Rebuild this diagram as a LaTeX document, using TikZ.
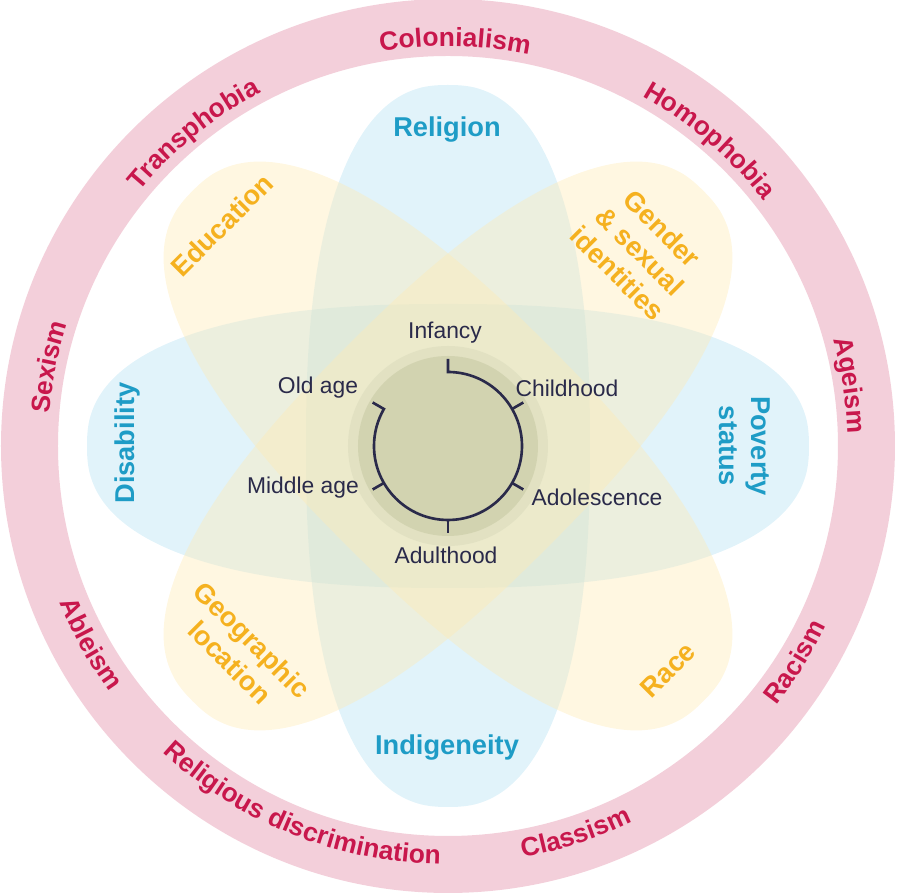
\documentclass[tikz,border=0pt]{standalone}
\usepackage{fontspec}
\setmainfont{Liberation Sans}
\usetikzlibrary{decorations.text}

\definecolor{ringpink}{HTML}{F3CFDA}
\definecolor{ringred}{HTML}{C8174C}
\definecolor{petalblue}{HTML}{A8DCF0}
\definecolor{petalyellow}{HTML}{FEEAB4}
\definecolor{textblue}{HTML}{1E9CC6}
\definecolor{textyellow}{HTML}{F5B11F}
\definecolor{navy}{HTML}{2A2A4A}
\definecolor{olive}{HTML}{D2D3B0}
\definecolor{halo}{HTML}{DCDCBC}

\newcommand{\ringfont}{\fontsize{15}{18}\selectfont\bfseries}
% petal: angle, colour, opacity
\newcommand{\petal}[3]{%
  \fill[#2, fill opacity=#3, rotate=#1] plot[smooth cycle, domain=1.5:358.5, samples=120]
    ({7.22*sign(cos(\x))*abs(cos(\x))^0.83}, {2.84*sign(sin(\x))*abs(sin(\x))^0.83});}
% ring text: angle, text (top reads outwards, bottom reads inwards)
\newcommand{\ringtop}[2]{%
  \path[decorate, decoration={text along path, text align=center, text color=ringred,
    text={|\ringfont|#2}}] ({#1+45}:8) arc[start angle={#1+45}, end angle={#1-45}, radius=8];}
\newcommand{\ringbot}[2]{%
  \path[decorate, decoration={text along path, text align=center, text color=ringred,
    text={|\ringfont|#2}}] ({#1-45}:8.37) arc[start angle={#1-45}, end angle={#1+45}, radius=8.37];}

\tikzset{
  label/.style={font=\fontsize{15.5}{18}\selectfont\bfseries, align=center},
  bluelabel/.style={label, text=textblue},
  yellowlabel/.style={label, text=textyellow},
  stage/.style={font=\fontsize{13}{15}\selectfont, text=navy},
}

\begin{document}
\begin{tikzpicture}
   \useasboundingbox (-8.96,-8.96) rectangle (8.98,8.92);
   \fill[ringpink, even odd rule] (0,0) circle (8.94) (0,0) circle (7.8);

   \petal{0}{petalblue}{0.35}
   \petal{90}{petalblue}{0.35}
   \petal{45}{petalyellow}{0.4}
   \petal{-45}{petalyellow}{0.4}
   \fill[halo, fill opacity=0.6] (0,0) circle (2);
   \fill[olive] (0,0) circle (1.8);

   \ringtop{168.8}{Sexism}
   \ringtop{129.2}{Transphobia}
   \ringtop{89}{Colonialism}
   \ringtop{49.4}{Homophobia}
   \ringtop{8.6}{Ageism}
   \ringbot{-31.9}{Racism}
   \ringbot{-71.8}{Classism}
   \ringbot{-112}{Religious discrimination}
   \ringbot{209}{Ableism}

   \node[bluelabel] (religion) at (-0.02,6.32) {Religion};
   \node[bluelabel] (indigeneity) at (-0.02,-6.04) {Indigeneity};
   \node[bluelabel, rotate=90] (disability) at (-6.42,0.06) {Disability};
   \node[bluelabel, rotate=-90] (poverty) at (5.94,0) {Poverty\\status};
   \node[yellowlabel, rotate=45] (education) at (-4.52,4.42) {Education};
   \node[yellowlabel, rotate=-45] (gender) at (3.84,3.9) {Gender\\\& sexual\\identities};
   \node[yellowlabel, rotate=-45] (geography) at (-4.14,-4.1) {Geographic\\location};
   \node[yellowlabel, rotate=45] (race) at (4.4,-4.48) {Race};

   \draw[navy, line width=1.5pt] (90:1.74) -- (90:1.48) arc[start angle=90, end angle=-210, radius=1.48] -- (150:1.74);
   \draw[navy, line width=1.5pt] (30:1.48) -- (30:1.74);
   \draw[navy, line width=1.5pt] (-30:1.48) -- (-30:1.74);
   \draw[navy, line width=1.5pt] (-90:1.48) -- (-90:1.74);
   \draw[navy, line width=1.5pt] (-150:1.48) -- (-150:1.74);

   \node[stage] (infancy) at (-0.06,2.26) {Infancy};
   \node[stage] (childhood) at (2.38,1.16) {Childhood};
   \node[stage] (adolescence) at (2.98,-1.02) {Adolescence};
   \node[stage] (adulthood) at (-0.04,-2.18) {Adulthood};
   \node[stage] (middleage) at (-2.9,-0.84) {Middle age};
   \node[stage] (oldage) at (-2.6,1.16) {Old age};

\end{tikzpicture}
\end{document}
